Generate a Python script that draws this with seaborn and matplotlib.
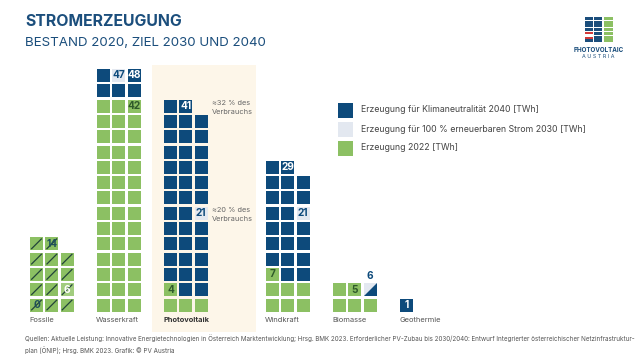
import numpy as np
import pandas as pd
import matplotlib
matplotlib.use("Agg")
import matplotlib.pyplot as plt
import seaborn as sns
from matplotlib.patches import Rectangle, Polygon

# ---------------- data ----------------
categories = ["Fossile", "Wasserkraft", "Photovoltaik", "Windkraft", "Biomasse", "Geothermie"]
erzeugung_2022 = [14, 42, 4, 7, 5, 0]
ziel_2030 = [6, 47, 21, 21, 6, None]
klima_2040 = [0, 48, 41, 29, 6, 1]
pv_notes_at = [41, 21]
pv_notes = ["≈32 % des\nVerbrauchs", "≈20 % des\nVerbrauchs"]
legend_labels = ["Erzeugung für Klimaneutralität 2040 [TWh]",
                 "Erzeugung für 100 % erneuerbaren Strom 2030 [TWh]",
                 "Erzeugung 2022 [TWh]"]
title = "STROMERZEUGUNG"
subtitle = "BESTAND 2020, ZIEL 2030 UND 2040"
source = ("Quellen: Aktuelle Leistung: Innovative Energietechnologien in Österreich Marktentwicklung; Hrsg. BMK 2023. "
          "Erforderlicher PV-Zubau bis 2030/2040: Entwurf Integrierter österreichischer Netzinfrastruktur-\n"
          "plan (ÖNIP); Hrsg. BMK 2023. Grafik: © PV Austria")

# ---------------- style / layout ----------------
DARK = "#0d4a7b"
LIGHT = "#e3e8f0"
GREEN = "#8cc063"
GREEN_LIGHT = "#a2cd7f"
BEIGE = "#fdf6e9"
TITLE_C = "#1b4e7c"
TXT = "#555555"

group_left = [30, 97, 164, 266, 333, 400]
pitch = 15.3
sq = 13.0
base = 311.5
ncol = 3

sns.set_style("white")
plt.rcParams["font.family"] = ["Inter", "DejaVu Sans"]

fig = plt.figure(figsize=(6.4, 3.6), dpi=100)
ax = fig.add_axes([0, 0, 1, 1])
ax.set_xlim(0, 640)
ax.set_ylim(360, 0)
ax.axis("off")


def cell(left, k):
    row, col = (k - 1) // ncol, (k - 1) % ncol
    x0 = left + col * pitch
    y1 = base - row * pitch
    return x0, y1 - sq  # left, top


# highlight PV background
pv_i = categories.index("Photovoltaik")
ax.add_patch(Rectangle((group_left[pv_i] - 12, base - 16 * pitch - 2), 104, 16 * pitch + 22,
                       facecolor=BEIGE, edgecolor="none", zorder=0))

rows = []
labels = []
specials = []
for i, cat in enumerate(categories):
    left = group_left[i]
    e22, z30, k40 = erzeugung_2022[i], ziel_2030[i], klima_2040[i]
    if k40 < e22:  # decreasing (fossil)
        for k in range(1, e22 + 1):
            x0, y0 = cell(left, k)
            fill = "fossil_light" if k == z30 else "green"
            rows.append(dict(cx=x0 + sq / 2, cy=y0 + sq / 2, fill=fill))
            specials.append(("hatch", x0, y0))
        x0, y0 = cell(left, e22)
        labels.append((x0 + sq / 2, y0 + sq / 2, str(e22), "#1e4f5a"))
        x0, y0 = cell(left, z30)
        labels.append((x0 + sq / 2, y0 + sq / 2, str(z30), "white"))
        x0, y0 = cell(left, 1)
        labels.append((x0 + sq / 2, y0 + sq / 2, str(k40), "#1e4f5a"))
        continue
    n = max(e22, k40)
    for k in range(1, n + 1):
        x0, y0 = cell(left, k)
        if k <= e22:
            fill = "green"
        elif z30 is not None and k == z30 and z30 != k40:
            fill = "light"
        elif z30 is not None and k == z30 == k40:
            fill = "light"
            specials.append(("split", x0, y0))
        else:
            fill = "dark"
        rows.append(dict(cx=x0 + sq / 2, cy=y0 + sq / 2, fill=fill))
    if e22 > 0:
        x0, y0 = cell(left, e22)
        labels.append((x0 + sq / 2, y0 + sq / 2, str(e22), "#2f5a2a"))
    if z30 is not None:
        x0, y0 = cell(left, z30)
        if z30 != k40:
            labels.append((x0 + sq / 2, y0 + sq / 2, str(z30), DARK))
        else:
            labels.append((x0 + sq / 2, y0 - 7, str(z30), DARK))
    if k40 > e22 and (z30 is None or z30 != k40):
        x0, y0 = cell(left, k40)
        labels.append((x0 + sq / 2, y0 + sq / 2, str(k40), "white"))

df = pd.DataFrame(rows)
palette = {"green": GREEN, "fossil_light": GREEN_LIGHT, "light": LIGHT, "dark": DARK}
ms = sq * 72 / 100
sns.scatterplot(data=df, x="cx", y="cy", hue="fill", palette=palette, marker="s",
                s=ms ** 2, linewidth=0, legend=False, ax=ax, zorder=2)

for kind, x0, y0 in specials:
    if kind == "hatch":
        ax.plot([x0 + 1.2, x0 + sq - 1.2], [y0 + sq - 1.2, y0 + 1.2], color="#23443a",
                lw=0.9, zorder=3, solid_capstyle="butt")
    else:
        ax.add_patch(Polygon([(x0, y0 + sq), (x0 + sq, y0 + sq), (x0 + sq, y0)],
                             closed=True, facecolor=DARK, edgecolor="none", zorder=3))

for x, y, t, c in labels:
    ax.text(x, y, t, ha="center", va="center", fontsize=7.3, fontweight="bold",
            color=c, zorder=4)

# category labels
for i, cat in enumerate(categories):
    bold = cat == "Photovoltaik"
    ax.text(group_left[i] - 1, 320, cat, ha="left", va="center", fontsize=5.4,
            color="#333333" if bold else TXT, fontweight="bold" if bold else "normal")

# PV notes
for k, note in zip(pv_notes_at, pv_notes):
    x0, y0 = cell(group_left[pv_i], k)
    ax.text(group_left[pv_i] + 48, y0 + 0.5, note, ha="left", va="top", fontsize=5.3,
            color="#666666", linespacing=1.55)

# legend
leg_cols = [DARK, LIGHT, GREEN]
for j, (lab, c) in enumerate(zip(legend_labels, leg_cols)):
    y = 110 + j * 19
    ax.add_patch(Rectangle((338, y - 7.5), 15, 15, facecolor=c, edgecolor="none"))
    ax.text(361, y, lab, ha="left", va="center", fontsize=6.3, color="#444444")

# title
ax.text(25, 22, title, ha="left", va="center", fontsize=11.4, fontweight="bold", color=TITLE_C)
ax.text(25, 43, subtitle, ha="left", va="center", fontsize=9.6, color=TITLE_C)

# source
ax.text(25, 344.5, source, ha="left", va="center", fontsize=4.5, color=TXT, linespacing=1.6)

# logo
for r in range(7):
    for c in range(2):
        ax.add_patch(Rectangle((585 + c * 9, 17 + r * 3.7), 8.2, 3.0, facecolor=TITLE_C,
                               edgecolor="none"))
    ax.add_patch(Rectangle((604, 17 + r * 3.7), 8.5, 3.0, facecolor=GREEN, edgecolor="none"))
ax.add_patch(Rectangle((585, 32), 8.2, 2.4, facecolor="#d23a3a", edgecolor="none", zorder=3))
ax.add_patch(Rectangle((585, 34.4), 8.2, 2.4, facecolor="white", edgecolor="none", zorder=3))
ax.add_patch(Rectangle((585, 36.8), 8.2, 2.4, facecolor="#d23a3a", edgecolor="none", zorder=3))
ax.text(598.5, 50, "PHOTOVOLTAIC", ha="center", va="center", fontsize=4.5,
        fontweight="bold", color=TITLE_C)
ax.text(598.5, 57, "A U S T R I A", ha="center", va="center", fontsize=3.9, color=TITLE_C)

fig.savefig("out.png", dpi=100, facecolor="white")
